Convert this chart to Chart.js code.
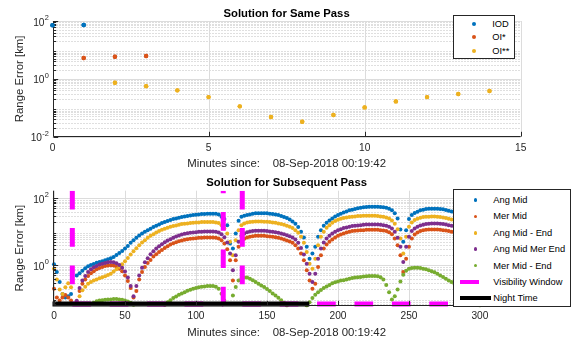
<!DOCTYPE html>
<html>
<head>
<meta charset="utf-8">
<script src="https://cdn.jsdelivr.net/npm/chart.js@4/dist/chart.umd.min.js"></script>
<style>
html, body { margin: 0; padding: 0; background: #fff; }
body { width: 576px; height: 343px; position: relative; overflow: hidden; font-family: 'Liberation Sans', Arial, sans-serif; }
canvas { position: absolute; left: 0; }
#c1 { top: 0; }
#c2 { top: 170px; }
.legend { position: absolute; background: #fff; border: 1px solid #262626; box-sizing: border-box; }
.item { position: absolute; font-size: 9.3px; color: #000; white-space: nowrap; line-height: 12px; }
.mark { position: absolute; }
</style>
</head>
<body>
<canvas id="c1" width="576" height="170"></canvas>
<canvas id="c2" width="576" height="173"></canvas>
<div id="leg1" class="legend" style="left:452.7px;top:15px;width:62.6px;height:44px"></div>
<div id="leg2" class="legend" style="left:453.3px;top:189.3px;width:117.7px;height:118px"></div>
<script>
// ---------- Solution for the same pass ----------
const iodMinutes = [0, 1];
const iodError = [71, 73];
const oiMinutes = [1, 2, 3];
const oiError = [5.25, 5.8, 6.15];
const oi2Minutes = [2, 3, 4, 5, 6, 7, 8, 9, 10, 11, 12, 13, 14];
const oi2Error = [0.73, 0.56, 0.40, 0.234, 0.112, 0.048, 0.033, 0.056, 0.103, 0.166, 0.234, 0.30, 0.38];

// ---------- Solution for the subsequent pass ----------
const subsMinutes = [
  0, 2, 4, 6, 8, 10, 12, 14, 16, 18,
  20, 22, 24, 26, 28, 30, 32, 34, 36, 38,
  40, 42, 44, 46, 48, 50, 52, 54, 56, 58,
  60, 62, 64, 66, 68, 70, 72, 74, 76, 78,
  80, 82, 84, 86, 88, 90, 92, 94, 96, 98,
  100, 102, 104, 106, 108, 110, 112, 114, 116, 118,
  120, 122, 124, 126, 128, 130, 132, 134, 136, 138,
  140, 142, 144, 146, 148, 150, 152, 154, 156, 158,
  160, 162, 164, 166, 168, 170, 172, 174, 176, 178,
  180, 182, 184, 186, 188, 190, 192, 194, 196, 198,
  200, 202, 204, 206, 208, 210, 212, 214, 216, 218,
  220, 222, 224, 226, 228, 230, 232, 234, 236, 238,
  240, 242, 244, 246, 248, 250, 252, 254, 256, 258,
  260, 262, 264, 266, 268, 270, 272, 274, 276, 278,
  280, 282, 284, 286, 288, 290, 292, 294, 296, 298,
  300];

const angMid = [
  1.07, 0.63, 0.32, 0.14, 0.11, 0.12, 0.14, null, 0.5, 0.58,
  0.69, 0.81, 0.93, 1.02, 1.1, 1.2, 1.26, 1.32, 1.41, 1.51,
  1.62, 1.78, 2.04, 2.34, 2.69, 3.16, 3.8, 4.68, 5.62, 6.61,
  7.76, 8.91, 10, 11.2, 12.3, 13.8, 15.1, 16.6, 18.2, 19.5,
  20.9, 22.4, 24, 25.1, 26.3, 27.5, 28.8, 29.5, 30.9, 31.6,
  32.4, 33.1, 33.9, 33.9, 34.7, 34.7, 34.7, 34.3, 33.1, 28.2,
  24, 15.8, 4.47, 3.16, 8.91, 21.4, 28.2, 30.2, 31.6, 33.1,
  34.7, 35.5, 35.9, 35.9, 35.9, 35.5, 34.7, 33.9, 33.1, 31.6,
  29.5, 27.5, 25.7, 23.4, 20.4, 17.4, 13.8, 10, 6.76, 3.55,
  1.58, 2.24, 3.55, 7.08, 11.2, 15.1, 18.6, 21.9, 25.1, 28.8,
  31.6, 34.7, 38, 40.7, 43.7, 45.7, 47.9, 50.1, 52.5, 53.7,
  55, 56.2, 56.2, 56.2, 56.2, 55, 53.7, 52.5, 49, 43.7,
  35.5, 25.1, 11.7, 5.01, 11.2, 24, 31.6, 36.3, 39.8, 43.7,
  45.7, 47.9, 49, 49, 49, 49, 47.9, 46.8, 44.7, 42.7,
  40.7, 38, 35.5, 33.1, 30.2, 27.5, 25.1, 22.4, 19.1, 15.8,
  12.6];

const merMid = [
  0.2, 0.11, 0.089, 0.11, 0.13, 0.11, 0.089, null, 0.081, 0.17,
  0.28, 0.38, 0.48, 0.58, 0.66, 0.76, 0.83, 0.89, 0.95, 0.98,
  1.0, 0.98, 0.91, 0.79, 0.66, 0.5, 0.34, 0.21, 0.11, 0.17,
  0.38, 0.63, 0.89, 1.17, 1.45, 1.82, 2.14, 2.51, 2.88, 3.31,
  3.72, 4.17, 4.57, 4.9, 5.25, 5.5, 5.75, 6.03, 6.17, 6.31,
  6.46, 6.61, 6.61, 6.76, 6.76, 6.76, 6.76, 6.61, 6.31, 5.62,
  4.47, 3.02, 1.41, 0.35, 1.41, 3.55, 5.25, 6.17, 6.76, 7.08,
  7.41, 7.59, 7.59, 7.59, 7.59, 7.41, 7.24, 7.08, 6.92, 6.61,
  6.31, 5.89, 5.5, 5.13, 4.68, 3.98, 3.16, 2.24, 1.41, 0.71,
  0.35, 0.2, 0.28, 0.89, 2.0, 3.16, 4.17, 5.01, 5.89, 6.76,
  7.59, 8.32, 8.91, 9.55, 10, 10.5, 10.7, 11, 11.2, 11.2,
  11.5, 11.5, 11.5, 11.5, 11.5, 11.2, 11, 10.5, 9.77, 8.51,
  6.31, 3.98, 2.0, 0.63, 1.58, 3.55, 6.31, 8.32, 9.55, 10.5,
  11.2, 11.5, 11.7, 11.7, 11.7, 11.7, 11.5, 11.2, 11, 10.5,
  10, 9.55, 9.12, 8.51, 7.94, 7.24, 6.61, 5.89, 5.01, 4.17,
  3.16];

const angMidEnd = [
  0.79, 0.38, 0.19, 0.14, 0.22, 0.29, 0.22, null, 0.076, 0.12,
  0.18, 0.23, 0.28, 0.32, 0.35, 0.38, 0.41, 0.44, 0.47, 0.51,
  0.56, 0.65, 0.76, 0.89, 1.07, 1.32, 1.66, 2.09, 2.63, 3.24,
  3.98, 4.79, 5.62, 6.61, 7.59, 8.51, 9.55, 10.5, 11.5, 12.3,
  13.2, 14.1, 14.8, 15.5, 16.2, 17, 17.4, 17.8, 18.2, 18.6,
  19.1, 19.1, 19.5, 19.5, 19.5, 19.5, 19.5, 19.1, 18.2, 15.8,
  12.6, 8.91, 5.01, 2.0, 5.62, 11.2, 15.8, 17.8, 19.1, 19.5,
  20, 20.4, 20.4, 20.4, 20, 20, 19.5, 19.1, 18.6, 17.8,
  17, 16.2, 15.1, 14.1, 12.9, 11.2, 9.33, 7.08, 4.68, 2.51,
  1.12, 0.79, 1.58, 3.98, 7.08, 10, 13.2, 15.8, 18.6, 20.9,
  22.9, 24.5, 25.7, 26.9, 27.5, 28.2, 28.8, 29.5, 29.5, 30.2,
  30.2, 30.2, 30.2, 30.2, 29.5, 28.8, 28.2, 26.9, 25.1, 21.9,
  17.4, 12, 6.31, 2.24, 7.08, 14.1, 19.1, 22.4, 24.5, 26.3,
  27.5, 28.2, 28.2, 28.8, 28.8, 28.2, 27.5, 26.9, 25.7, 24.5,
  23.4, 22.4, 20.9, 19.5, 17.8, 16.2, 14.5, 12.6, 10.7, 8.91,
  7.08];

const angMidMerEnd = [
  null, null, null, null, null, null, null, null, 0.087, 0.21,
  0.35, 0.48, 0.63, 0.76, 0.87, 0.95, 1.05, 1.12, 1.17, 1.23,
  1.26, 1.23, 1.15, 1.02, 0.85, 0.65, 0.43, 0.24, 0.12, 0.24,
  0.5, 0.85, 1.23, 1.62, 2.14, 2.63, 3.16, 3.72, 4.27, 4.9,
  5.5, 6.03, 6.61, 7.24, 7.76, 8.32, 8.71, 9.12, 9.33, 9.55,
  9.77, 10, 10, 10.2, 10.2, 10.2, 10.2, 10, 9.55, 8.51,
  6.92, 4.79, 2.24, 0.71, 2.0, 5.01, 7.59, 8.91, 9.77, 10.2,
  10.5, 10.7, 10.7, 10.7, 10.7, 10.5, 10.2, 10, 9.77, 9.33,
  8.91, 8.51, 7.94, 7.41, 6.76, 5.89, 4.68, 3.31, 2.09, 1.12,
  0.56, 0.32, 0.56, 1.58, 3.16, 4.79, 6.31, 7.59, 8.91, 10,
  11.2, 12, 12.9, 13.5, 14.1, 14.8, 15.1, 15.5, 15.8, 16.2,
  16.6, 16.6, 16.6, 16.6, 16.6, 16.2, 15.8, 15.1, 14.1, 12.6,
  10, 6.61, 3.55, 1.26, 3.55, 7.08, 10.5, 12.6, 14.1, 15.5,
  16.2, 17, 17.4, 17.8, 17.8, 17.8, 17.4, 17, 16.6, 15.8,
  15.1, 14.5, 13.5, 12.6, 11.7, 10.7, 9.77, 8.71, 7.41, 6.03,
  4.57];

const merMidEnd = [
  null, null, null, null, null, null, null, null, null, null,
  null, null, null, null, 0.076, 0.085, 0.089, 0.091, 0.093, 0.095,
  0.095, 0.098, 0.098, 0.095, 0.093, 0.089, 0.083, 0.076, 0.066, null,
  null, null, null, null, null, null, null, null, null, 0.066,
  0.079, 0.091, 0.105, 0.117, 0.132, 0.145, 0.158, 0.174, 0.186, 0.2,
  0.21, 0.22, 0.23, 0.234, 0.24, 0.24, 0.24, 0.23, 0.2, 0.141,
  0.089, null, null, 0.126, 0.224, 0.35, 0.4, 0.43, 0.43, 0.4,
  0.36, 0.32, 0.28, 0.25, 0.224, 0.195, 0.17, 0.145, 0.126, 0.107,
  0.091, 0.076, 0.063, null, null, null, null, null, null, 0.063,
  0.079, 0.105, 0.132, 0.158, 0.182, 0.21, 0.234, 0.26, 0.29, 0.31,
  0.33, 0.35, 0.36, 0.38, 0.4, 0.42, 0.43, 0.44, 0.45, 0.46,
  0.47, 0.48, 0.48, 0.48, 0.47, 0.44, 0.38, 0.26, 0.158, 0.095,
  0.12, 0.19, 0.33, 0.52, 0.69, 0.79, 0.83, 0.85, 0.85, 0.83,
  0.79, 0.76, 0.71, 0.66, 0.62, 0.56, 0.5, 0.45, 0.4, 0.35,
  0.32, 0.28, 0.25, 0.22, 0.19, 0.162, 0.138, 0.115, 0.093, 0.076,
  0.063];

// Visibility windows and night time, minutes since epoch
const visibleFrom = [-5, 119.2];
const visibleTo = [12.9, 132.6];
const nightFrom = [-5];
const nightTo = [179.8];
const markerLevel = 0.07;   // km level where the window/night bars run

// Axis ticks
const sameXTicks = [0, 5, 10, 15];
const sameYExp = [-2, 0, 2];
const subsXTicks = [0, 50, 100, 150, 200, 250, 300];
const subsYExp = [0, 2];

const COLORS = {
  blue: '#0072BD', orange: '#D95319', yellow: '#EDB120',
  purple: '#7E2F8E', green: '#77AC30', magenta: '#FF00FF', black: '#000000'
};
const AXIS = '#262626';
const GRID_MAJOR = '#dcdcdc';
const GRID_MINOR = '#bfbfbf';
const FONT = '"Liberation Sans", Arial, sans-serif';

const pts = (xs, ys) => xs.map((m, i) => ({ x: m, y: ys[i] })).filter(p => p.y !== null);

function logMinors(min, max) {
  const out = [];
  for (let k = Math.floor(Math.log10(min)); k <= Math.ceil(Math.log10(max)); k++) {
    for (let m = 2; m <= 9; m++) {
      const v = m * Math.pow(10, k);
      if (v > min && v < max) out.push(v);
    }
  }
  return out;
}

function matlabAxes(cfg) {
  return {
    id: 'matlabAxes',
    beforeDatasetsDraw(chart) {
      const { ctx, chartArea: a } = chart;
      const x = chart.scales.x, y = chart.scales.y;
      ctx.save();
      ctx.lineWidth = 1;
      ctx.strokeStyle = GRID_MINOR;
      ctx.setLineDash([1, 2]);
      for (const v of logMinors(y.min, y.max)) {
        const py = Math.round(y.getPixelForValue(v)) + 0.5;
        ctx.beginPath(); ctx.moveTo(a.left + 1, py); ctx.lineTo(a.right, py); ctx.stroke();
      }
      ctx.setLineDash([]);
      ctx.strokeStyle = GRID_MAJOR;
      for (const e of cfg.yExp) {
        const py = Math.round(y.getPixelForValue(Math.pow(10, e))) + 0.5;
        ctx.beginPath(); ctx.moveTo(a.left, py); ctx.lineTo(a.right, py); ctx.stroke();
      }
      for (const t of cfg.xTicks) {
        const px = Math.round(x.getPixelForValue(t)) + 0.5;
        if (px <= a.left + 1) continue;
        ctx.beginPath(); ctx.moveTo(px, a.top); ctx.lineTo(px, a.bottom); ctx.stroke();
      }
      ctx.restore();
    },
    afterDatasetsDraw(chart) {
      const { ctx, chartArea: a } = chart;
      const x = chart.scales.x, y = chart.scales.y;
      ctx.save();
      ctx.setLineDash([]);
      ctx.strokeStyle = AXIS;
      ctx.lineWidth = 1;
      const L = Math.round(a.left) + 0.5;
      const B = Math.round(a.bottom) - 0.5;
      ctx.beginPath();
      ctx.moveTo(L, a.top); ctx.lineTo(L, B); ctx.lineTo(a.right, B);
      ctx.stroke();
      // inward ticks
      ctx.beginPath();
      for (const t of cfg.xTicks) {
        const px = Math.round(x.getPixelForValue(t)) + 0.5;
        ctx.moveTo(px, B); ctx.lineTo(px, B - 4.7);
      }
      for (const v of logMinors(y.min, y.max)) {
        const py = Math.round(y.getPixelForValue(v)) + 0.5;
        ctx.moveTo(L, py); ctx.lineTo(L + 2.6, py);
      }
      for (const e of cfg.yExp) {
        const py = Math.round(y.getPixelForValue(Math.pow(10, e))) + 0.5;
        ctx.moveTo(L, py); ctx.lineTo(L + 4.7, py);
      }
      ctx.stroke();

      // tick labels
      ctx.fillStyle = AXIS;
      ctx.font = '10.2px ' + FONT;
      ctx.textAlign = 'center';
      ctx.textBaseline = 'middle';
      for (const t of cfg.xTicks) {
        ctx.fillText(String(t), x.getPixelForValue(t), a.bottom + 11);
      }
      for (const e of cfg.yExp) {
        const py = y.getPixelForValue(Math.pow(10, e));
        const sup = String(e);
        const right = a.left - 3.6;
        ctx.textAlign = 'right';
        ctx.font = '7.4px ' + FONT;
        const w = ctx.measureText(sup).width;
        ctx.fillText(sup, right, py - 3);
        ctx.font = '10.2px ' + FONT;
        ctx.fillText('10', right - w - 0.3, py + 1.8);
      }

      // titles
      const cx = (a.left + a.right) / 2;
      ctx.textAlign = 'center';
      ctx.textBaseline = 'alphabetic';
      ctx.fillStyle = '#000';
      ctx.font = 'bold 11.3px ' + FONT;
      ctx.fillText(cfg.title, cx, a.top - 4.3);
      ctx.fillStyle = AXIS;
      ctx.font = '11.4px ' + FONT;
      ctx.textBaseline = 'middle';
      ctx.fillText(cfg.xLabel, cx, a.bottom + 27);
      ctx.translate(20, (a.top + a.bottom) / 2);
      ctx.rotate(-Math.PI / 2);
      ctx.fillText(cfg.yLabel, 0, 0);
      ctx.restore();
    }
  };
}

// marker dots placed with the chart's scales and drawn over the axes frame (unclipped markers)
const markersOnTop = {
  id: 'markersOnTop',
  afterDraw(chart) {
    const ctx = chart.ctx;
    const xs = chart.scales.x, ys = chart.scales.y;
    chart.data.datasets.forEach(ds => {
      ctx.save();
      ctx.fillStyle = ds.backgroundColor;
      ds.data.forEach(p => {
        ctx.beginPath();
        ctx.arc(xs.getPixelForValue(p.x), ys.getPixelForValue(p.y), ds.pointRadius, 0, Math.PI * 2);
        ctx.fill();
      });
      ctx.restore();
    });
  }
};

const X_LABEL = 'Minutes since:    08-Sep-2018 00:19:42';
const Y_LABEL = 'Range Error [km]';

function dotSet(label, xs, ys, color, r, clip) {
  return {
    label, data: pts(xs, ys), backgroundColor: color, borderColor: color,
    pointRadius: r, pointBorderWidth: 0, pointHoverRadius: r, showLine: false, clip
  };
}

// ---------- top chart ----------
const sameSets = [
  dotSet('IOD', iodMinutes, iodError, COLORS.blue, 2.3, false),
  dotSet('OI*', oiMinutes, oiError, COLORS.orange, 2.2, false),
  dotSet('OI**', oi2Minutes, oi2Error, COLORS.yellow, 2.2, false)
];

new Chart(document.getElementById('c1'), {
  type: 'scatter',
  data: { datasets: sameSets },
  options: {
    responsive: false, animation: false, events: [],
    layout: { padding: { left: 52.5, right: 55.3, top: 21, bottom: 33.3 } },
    plugins: { legend: { display: false }, tooltip: { enabled: false } },
    scales: {
      x: { type: 'linear', min: 0, max: 15, display: false },
      y: { type: 'logarithmic', min: 0.01, max: 100, display: false }
    }
  },
  plugins: [matlabAxes({ title: 'Solution for Same Pass', xLabel: X_LABEL, yLabel: Y_LABEL, xTicks: sameXTicks, yExp: sameYExp }), markersOnTop]
});

// ---------- bottom chart ----------
const SUBS_X_MIN = -1.06, SUBS_X_MAX = 328.7;
const SUBS_Y_MIN = 0.0631, SUBS_Y_MAX = 168.7;

function barSet(pointsXY, color, width, dash, offset) {
  return {
    data: pointsXY, showLine: true, borderColor: color, backgroundColor: color,
    borderWidth: width, borderDash: dash, borderDashOffset: offset, borderCapStyle: 'butt',
    pointRadius: 0, pointHoverRadius: 0, clip: { left: 0, top: 0, right: 0, bottom: 3 }
  };
}

const lineSets = [];
// night time bars
nightFrom.forEach((s, i) => {
  lineSets.push(barSet([{ x: s, y: markerLevel }, { x: nightTo[i], y: markerLevel }], COLORS.black, 5, [], 0));
});
// visibility window: window edges run up to the top of the axes, gaps run along the bottom
const VIS_DASH = [18.7, 18.7];
visibleFrom.forEach((s, i) => {
  if (s > SUBS_X_MIN) {
    lineSets.push(barSet([{ x: s, y: SUBS_Y_MAX }, { x: s, y: markerLevel }], COLORS.magenta, 5, VIS_DASH, 16.1));
  }
  const e = visibleTo[i];
  lineSets.push(barSet([{ x: e, y: SUBS_Y_MAX }, { x: e, y: markerLevel }], COLORS.magenta, 5, VIS_DASH, 0));
  const next = i + 1 < visibleFrom.length ? visibleFrom[i + 1] : SUBS_X_MAX + 5;
  lineSets.push(barSet([{ x: e, y: markerLevel }, { x: next, y: markerLevel }], COLORS.magenta, 5, VIS_DASH, 0));
});

const subsSets = [
  dotSet('Mer Mid - End', subsMinutes, merMidEnd, COLORS.green, 2.0, 2),
  dotSet('Ang Mid Mer End', subsMinutes, angMidMerEnd, COLORS.purple, 2.0, 2),
  dotSet('Ang Mid - End', subsMinutes, angMidEnd, COLORS.yellow, 2.0, 2),
  dotSet('Mer Mid', subsMinutes, merMid, COLORS.orange, 2.0, 2),
  dotSet('Ang Mid', subsMinutes, angMid, COLORS.blue, 2.0, 2)
];

new Chart(document.getElementById('c2'), {
  type: 'scatter',
  data: { datasets: lineSets.concat(subsSets) },
  options: {
    responsive: false, animation: false, events: [],
    layout: { padding: { left: 52.5, right: 55.3, top: 20.7, bottom: 37.5 } },
    plugins: { legend: { display: false }, tooltip: { enabled: false } },
    scales: {
      x: { type: 'linear', min: SUBS_X_MIN, max: SUBS_X_MAX, display: false },
      y: { type: 'logarithmic', min: SUBS_Y_MIN, max: SUBS_Y_MAX, display: false }
    }
  },
  plugins: [matlabAxes({ title: 'Solution for Subsequent Pass', xLabel: X_LABEL, yLabel: Y_LABEL, xTicks: subsXTicks, yExp: subsYExp })]
});

// ---------- legends ----------
function buildLegend(id, items, markX, textX, firstRow, rowStep) {
  const box = document.getElementById(id);
  items.forEach((it, i) => {
    const cy = firstRow + i * rowStep;
    const m = document.createElement('div');
    m.className = 'mark';
    if (it.kind === 'dot') {
      const d = it.r * 2;
      Object.assign(m.style, { left: (markX - it.r) + 'px', top: (cy - it.r) + 'px', width: d + 'px', height: d + 'px', borderRadius: '50%', background: it.color });
    } else {
      Object.assign(m.style, { left: it.x0 + 'px', top: (cy - it.w / 2) + 'px', width: (it.x1 - it.x0) + 'px', height: it.w + 'px', background: it.color });
    }
    box.appendChild(m);
    const t = document.createElement('div');
    t.className = 'item';
    t.textContent = it.label;
    Object.assign(t.style, { left: textX + 'px', top: (cy - 6) + 'px' });
    box.appendChild(t);
  });
}

buildLegend('leg1', [
  { kind: 'dot', r: 2.1, color: COLORS.blue, label: 'IOD' },
  { kind: 'dot', r: 2.1, color: COLORS.orange, label: 'OI*' },
  { kind: 'dot', r: 2.1, color: COLORS.yellow, label: 'OI**' }
], 20.3, 38.6, 8, 13.4);

buildLegend('leg2', [
  { kind: 'dot', r: 1.8, color: COLORS.blue, label: 'Ang Mid' },
  { kind: 'dot', r: 1.8, color: COLORS.orange, label: 'Mer Mid' },
  { kind: 'dot', r: 1.8, color: COLORS.yellow, label: 'Ang Mid - End' },
  { kind: 'dot', r: 1.8, color: COLORS.purple, label: 'Ang Mid Mer End' },
  { kind: 'dot', r: 1.8, color: COLORS.green, label: 'Mer Mid - End' },
  { kind: 'line', x0: 5.7, x1: 24.4, w: 4, color: COLORS.magenta, label: 'Visibility Window' },
  { kind: 'line', x0: 5.7, x1: 36.4, w: 4, color: COLORS.black, label: 'Night Time' }
], 21.4, 39, 9.7, 16.4);
</script>
</body>
</html>
